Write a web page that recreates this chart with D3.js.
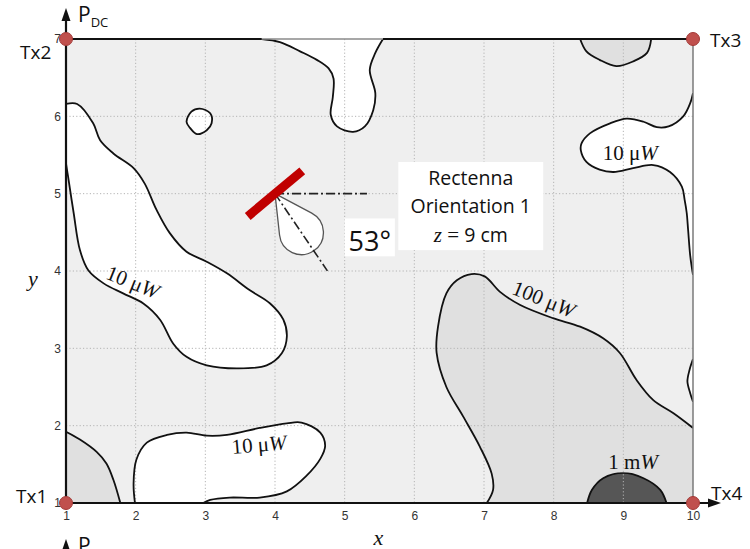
<!DOCTYPE html>
<html>
<head>
<meta charset="utf-8">
<script src="https://cdn.jsdelivr.net/npm/d3@7"></script>
<style>
  body { margin: 0; background: #fff; }
  svg { display: block; }
</style>
</head>
<body>
<svg id="chart" width="750" height="549"></svg>
<script>
// ---- data -------------------------------------------------------------
const xTicks = [1, 2, 3, 4, 5, 6, 7, 8, 9, 10];
const yTicks = [1, 2, 3, 4, 5, 6, 7];

const txNames = ["Tx1", "Tx2", "Tx3", "Tx4"];
const txX = [1, 1, 10, 10];
const txY = [1, 7, 7, 1];

// rectenna placement and orientation
const rectennaX = 4;
const rectennaY = 5;
const rectennaAngle = 53;    // degrees below the +x direction
const rectennaZ = "9 cm";

// iso-power boundaries, [x, y] in plot units
// below 10 µW (white)
const lowWest = [[1, 6.16], [1.16, 6.16], [1.39, 5.91], [1.49, 5.69], [1.68, 5.52], [1.97, 5.33],
  [2.13, 5.13], [2.30, 4.79], [2.49, 4.49], [2.73, 4.25], [3.02, 4.12], [3.31, 3.97], [3.64, 3.75],
  [3.93, 3.58], [4.12, 3.37], [4.17, 3.15], [4.10, 2.94], [3.88, 2.78], [3.45, 2.74], [3.02, 2.78],
  [2.73, 2.89], [2.54, 3.06], [2.35, 3.37], [2.11, 3.58], [1.82, 3.71], [1.54, 3.84], [1.32, 4.01],
  [1.20, 4.27], [1.11, 4.75], [1.03, 5.22], [1, 5.39]];
const lowIsle = [[2.73, 5.93], [2.80, 6.06], [2.92, 6.10], [3.07, 6.04], [3.09, 5.91], [3.02, 5.82],
  [2.88, 5.77], [2.78, 5.85]];
const lowNotch = [[3.81, 7], [4.07, 6.96], [4.36, 6.84], [4.60, 6.73], [4.77, 6.62], [4.84, 6.49],
  [4.83, 6.25], [4.80, 6.02], [4.89, 5.87], [5.12, 5.80], [5.29, 5.87], [5.41, 6.08], [5.44, 6.30],
  [5.36, 6.60], [5.44, 6.82], [5.55, 7]];
const lowEast = [[10, 6.30], [9.96, 6.17], [9.86, 6.00], [9.65, 5.87], [9.48, 5.86], [9.29, 5.93],
  [9.05, 5.97], [8.81, 5.91], [8.52, 5.78], [8.40, 5.65], [8.39, 5.56], [8.47, 5.41], [8.66, 5.31],
  [8.86, 5.28], [9.14, 5.33], [9.43, 5.37], [9.67, 5.28], [9.84, 5.09], [9.88, 4.92], [9.91, 4.75],
  [9.93, 4.53], [9.96, 4.20], [10, 3.95]];
const lowEastBump = [[10, 2.86], [9.95, 2.72], [9.92, 2.57], [9.96, 2.42], [10, 2.31]];
const lowSouth = [[1.99, 1], [1.97, 1.25], [2.01, 1.56], [2.16, 1.78], [2.45, 1.88], [2.73, 1.91],
  [3.02, 1.87], [3.31, 1.88], [3.78, 1.97], [4.17, 2.03], [4.38, 2.04], [4.65, 1.91], [4.72, 1.74],
  [4.65, 1.57], [4.45, 1.35], [4.17, 1.15], [3.78, 1.07], [3.35, 1.07], [3.07, 1.04], [2.97, 1]];
// above 100 µW (mid grey)
const highNorth = [[8.38, 7], [8.47, 6.84], [8.66, 6.73], [8.90, 6.65], [9.14, 6.71], [9.34, 6.82], [9.40, 7]];
const highSouthWest = [[1, 1.92], [1.20, 1.82], [1.44, 1.66], [1.58, 1.51], [1.68, 1.30], [1.78, 1]];
const highSouthEast = [[7.04, 1], [7.13, 1.17], [7.11, 1.38], [6.94, 1.73], [6.70, 2.12], [6.46, 2.50],
  [6.32, 2.94], [6.34, 3.28], [6.46, 3.71], [6.61, 3.88], [6.82, 3.96], [7.01, 3.93], [7.23, 3.73],
  [7.52, 3.56], [7.99, 3.39], [8.38, 3.28], [8.71, 3.13], [8.95, 2.94], [9.19, 2.59], [9.43, 2.33],
  [9.72, 2.16], [10, 1.97]];
// above 1 mW (dark grey)
const peakSouth = [[8.48, 1], [8.55, 1.17], [8.71, 1.32], [9.00, 1.39], [9.29, 1.32], [9.53, 1.17], [9.62, 1]];

// contour level captions: text, anchor [x, y], rotation (deg)
const levelText = ["10 μ", "10 μ", "10 μ", "100 μ", "1 m"];
const levelUnit = ["W", "W", "W", "W", "W"];
const levelAt = [[1.96, 3.86], [9.10, 5.53], [3.77, 1.76], [7.86, 3.64], [9.14, 1.53]];
const levelRot = [22, 0, -5, 22, 0];

// ---- layout -----------------------------------------------------------
const svg = d3.select("#chart");
const x = d3.scaleLinear().domain([1, 10]).range([66, 693]);
const y = d3.scaleLinear().domain([1, 7]).range([503, 39]);

const FILL = { low: "#ffffff", mid: "#efefef", high: "#e0e0e0", peak: "#565656" };

const regions = [
  { pts: lowWest, fill: FILL.low, corners: [] },
  { pts: lowIsle, fill: FILL.low, closed: true },
  { pts: lowNotch, fill: FILL.low, corners: [] },
  { pts: lowEast, fill: FILL.low, corners: [] },
  { pts: lowEastBump, fill: FILL.low, corners: [] },
  { pts: lowSouth, fill: FILL.low, corners: [] },
  { pts: highNorth, fill: FILL.high, corners: [] },
  { pts: highSouthWest, fill: FILL.high, corners: [[1, 1]] },
  { pts: highSouthEast, fill: FILL.high, corners: [[10, 1]] },
  { pts: peakSouth, fill: FILL.peak, corners: [] }
];

const curveOpen = d3.line().x(d => x(d[0])).y(d => y(d[1])).curve(d3.curveCatmullRom.alpha(0.5));
const curveLoop = d3.line().x(d => x(d[0])).y(d => y(d[1])).curve(d3.curveCatmullRomClosed.alpha(0.5));

const defs = svg.append("defs");
defs.append("clipPath").attr("id", "plotClip")
  .append("rect").attr("x", x(1)).attr("y", y(7)).attr("width", x(10) - x(1)).attr("height", y(1) - y(7));

const gapMask = defs.append("mask").attr("id", "labelGaps").attr("maskUnits", "userSpaceOnUse")
  .attr("x", 0).attr("y", 0).attr("width", 750).attr("height", 549);
gapMask.append("rect").attr("width", 750).attr("height", 549).attr("fill", "#fff");

const plot = svg.append("g").attr("clip-path", "url(#plotClip)");

// background band (10 µW – 100 µW)
plot.append("rect")
  .attr("x", x(1)).attr("y", y(7))
  .attr("width", x(10) - x(1)).attr("height", y(1) - y(7))
  .attr("fill", FILL.mid);

// filled bands
plot.selectAll("path.band").data(regions).join("path")
  .attr("class", "band")
  .attr("fill", d => d.fill)
  .attr("d", d => d.closed ? curveLoop(d.pts)
    : curveOpen(d.pts) + d.corners.map(c => `L${x(c[0])},${y(c[1])}`).join("") + "Z");

// dotted grid
const grid = plot.append("g").attr("stroke", "#b4b4b4").attr("stroke-width", 1)
  .attr("stroke-dasharray", "1.2,2.2");
grid.selectAll("line.gx").data(xTicks.slice(1, -1)).join("line")
  .attr("x1", d => x(d)).attr("x2", d => x(d)).attr("y1", y(7)).attr("y2", y(1));
grid.selectAll("line.gy").data(yTicks.slice(1, -1)).join("line")
  .attr("y1", d => y(d)).attr("y2", d => y(d)).attr("x1", x(1)).attr("x2", x(10));

// contour lines (with gaps under the captions)
const lines = plot.append("g").attr("mask", "url(#labelGaps)")
  .attr("fill", "none").attr("stroke", "#111").attr("stroke-width", 1.8).attr("stroke-linejoin", "round");
lines.selectAll("path").data(regions).join("path")
  .attr("d", d => d.closed ? curveLoop(d.pts) : curveOpen(d.pts));

// level captions
const capG = svg.append("g")
  .attr("font-family", "'Liberation Serif', 'DejaVu Serif', serif")
  .attr("font-size", 21).attr("fill", "#111");
levelText.forEach((t, i) => {
  const tr = `translate(${x(levelAt[i][0])},${y(levelAt[i][1])}) rotate(${levelRot[i]})`;
  const txt = capG.append("text").attr("transform", tr)
    .attr("text-anchor", "middle").attr("dy", "0.35em");
  txt.append("tspan").text(t);
  txt.append("tspan").attr("font-style", "italic").text(levelUnit[i]);
  const bb = txt.node().getBBox();
  gapMask.append("rect").attr("transform", tr)
    .attr("x", bb.x - 2).attr("y", bb.y + 2).attr("width", bb.width + 4).attr("height", bb.height - 4)
    .attr("fill", "#000");
});

// ---- frame and axes ----------------------------------------------------
const frame = svg.append("g");
frame.append("line").attr("x1", x(10)).attr("x2", x(10)).attr("y1", y(7)).attr("y2", y(1))
  .attr("stroke", "#7a7a7a").attr("stroke-width", 1.5);
// top edge: grey where the low-power notch opens onto it, black elsewhere
const notchL = x(lowNotch[0][0]), notchR = x(lowNotch[lowNotch.length - 1][0]);
frame.append("line").attr("x1", notchL).attr("x2", notchR).attr("y1", y(7)).attr("y2", y(7))
  .attr("stroke", "#8a8a8a").attr("stroke-width", 1.5);
[[x(1), notchL], [notchR, x(10)]].forEach(([a, b]) =>
  frame.append("line").attr("x1", a).attr("x2", b).attr("y1", y(7)).attr("y2", y(7))
    .attr("stroke", "#111").attr("stroke-width", 2));
frame.append("line").attr("x1", x(1)).attr("x2", x(1)).attr("y1", y(1)).attr("y2", y(7) - 22)
  .attr("stroke", "#111").attr("stroke-width", 2.2);
frame.append("line").attr("x1", x(1)).attr("x2", x(10) + 18).attr("y1", y(1)).attr("y2", y(1))
  .attr("stroke", "#111").attr("stroke-width", 2.2);
const arrow = (tx, ty, dir) => {
  // dir: "up" or "right"
  const p = dir === "up"
    ? [[tx, ty], [tx - 4.5, ty + 13], [tx + 4.5, ty + 13]]
    : [[tx, ty], [tx - 13, ty - 4.5], [tx - 13, ty + 4.5]];
  frame.append("path").attr("d", "M" + p.join("L") + "Z").attr("fill", "#111");
};
arrow(x(1), y(7) - 31, "up");
arrow(x(10) + 28, y(1), "right");

const tickFont = "'Liberation Sans', Arial, sans-serif";
const xAxis = svg.append("g").attr("transform", `translate(0,${y(1)})`)
  .call(d3.axisBottom(x).tickValues(xTicks).tickSize(0).tickPadding(8).tickFormat(d3.format("d")));
const yAxis = svg.append("g").attr("transform", `translate(${x(1)},0)`)
  .call(d3.axisLeft(y).tickValues(yTicks).tickSize(0).tickPadding(5).tickFormat(d3.format("d")));
[xAxis, yAxis].forEach(a => {
  a.select(".domain").remove();
  a.selectAll("text").attr("font-family", tickFont).attr("font-size", 12).attr("fill", "#333");
});

// axis names
const mathFont = "'Liberation Serif', 'DejaVu Serif', serif";
svg.append("text").attr("x", (x(1) + x(10)) / 2 - 1).attr("y", 545)
  .attr("font-family", mathFont).attr("font-style", "italic").attr("font-size", 22)
  .attr("text-anchor", "middle").attr("fill", "#111").text("x");
svg.append("text").attr("x", 33).attr("y", 286)
  .attr("font-family", mathFont).attr("font-style", "italic").attr("font-size", 22)
  .attr("text-anchor", "middle").attr("fill", "#111").text("y");

const sans = "'Open Sans', 'Noto Sans', sans-serif";
const pdc = (px, py) => {
  const t = svg.append("text").attr("x", px).attr("y", py)
    .attr("font-family", sans).attr("font-size", 21).attr("fill", "#111");
  t.append("tspan").text("P");
  t.append("tspan").attr("font-size", 13).attr("dy", 5).text("DC");
};
pdc(78, 22);
// next panel's axis peeking in below
svg.append("line").attr("x1", x(1)).attr("x2", x(1)).attr("y1", 549).attr("y2", 546)
  .attr("stroke", "#111").attr("stroke-width", 2.2);
svg.append("path").attr("d", `M${x(1)},${539}L${x(1) - 4.5},${552}L${x(1) + 4.5},${552}Z`).attr("fill", "#111");
pdc(78, 553);

// ---- rectenna annotation ----------------------------------------------
const ann = svg.append("g");
const rad = rectennaAngle * Math.PI / 180;
const ax0 = x(rectennaX), ay0 = y(rectennaY);
const dirPt = len => [x(rectennaX + len * Math.cos(rad)), y(rectennaY - len * Math.sin(rad))];

// reference and boresight lines
ann.append("line").attr("x1", ax0).attr("y1", ay0).attr("x2", x(rectennaX + 1.32)).attr("y2", ay0)
  .attr("stroke", "#222").attr("stroke-width", 1.6).attr("stroke-dasharray", "9,3,2,3");
const bEnd = dirPt(1.25);

// radiation lobe
const c = dirPt(0.63);
const r = 22;
const dx = c[0] - ax0, dy = c[1] - ay0, d = Math.hypot(dx, dy);
const phi = Math.atan2(dy, dx), alpha = Math.asin(r / d), L = Math.sqrt(d * d - r * r);
const p1 = [ax0 + L * Math.cos(phi - alpha), ay0 + L * Math.sin(phi - alpha)];
const p2 = [ax0 + L * Math.cos(phi + alpha), ay0 + L * Math.sin(phi + alpha)];
ann.append("path")
  .attr("d", `M${ax0},${ay0}L${p1[0]},${p1[1]}A${r},${r} 0 1 1 ${p2[0]},${p2[1]}Z`)
  .attr("fill", "#fff").attr("stroke", "#555").attr("stroke-width", 1.3);
// boresight drawn over the lobe
ann.append("line").attr("x1", ax0).attr("y1", ay0).attr("x2", bEnd[0]).attr("y2", bEnd[1])
  .attr("stroke", "#222").attr("stroke-width", 1.6).attr("stroke-dasharray", "9,3,2,3");

// antenna bar, normal to boresight
const half = 0.49;
const perp = rad - Math.PI / 2;
ann.append("line")
  .attr("x1", x(rectennaX - half * Math.cos(perp))).attr("y1", y(rectennaY + half * Math.sin(perp)))
  .attr("x2", x(rectennaX + half * Math.cos(perp))).attr("y2", y(rectennaY - half * Math.sin(perp)))
  .attr("stroke", "#c00000").attr("stroke-width", 9);

// angle label
ann.append("rect").attr("x", x(5.0)).attr("y", y(4.68)).attr("width", x(5.72) - x(5.0))
  .attr("height", y(4.19) - y(4.68)).attr("fill", "#fff");
ann.append("text").attr("x", x(5.36)).attr("y", y(4.26)).attr("text-anchor", "middle")
  .attr("font-family", sans).attr("font-size", 27).attr("fill", "#111").text(rectennaAngle + "°");

// info box
ann.append("rect").attr("x", x(5.77)).attr("y", y(5.41)).attr("width", x(7.85) - x(5.77))
  .attr("height", y(4.27) - y(5.41)).attr("fill", "#fff");
const cx = (x(5.77) + x(7.85)) / 2;
const info = ann.append("g").attr("font-family", sans).attr("font-size", 19.5)
  .attr("fill", "#111").attr("text-anchor", "middle");
info.append("text").attr("x", cx).attr("y", 185).text("Rectenna");
info.append("text").attr("x", cx).attr("y", 213).text("Orientation 1");
const zt = info.append("text").attr("x", cx).attr("y", 242);
zt.append("tspan").attr("font-family", mathFont).attr("font-style", "italic").attr("font-size", 21).text("z");
zt.append("tspan").attr("font-family", mathFont).attr("font-size", 21).text(" = ");
zt.append("tspan").text(rectennaZ);

// ---- transmitters -------------------------------------------------------
svg.append("g").selectAll("circle").data(txNames).join("circle")
  .attr("cx", (d, i) => x(txX[i])).attr("cy", (d, i) => y(txY[i])).attr("r", 6.5)
  .attr("fill", "#c0504d").attr("stroke", "#a33a37").attr("stroke-width", 1);

const txLabelPos = { Tx1: [16, 503], Tx2: [20, 59], Tx3: [710, 47], Tx4: [711, 500] };
svg.append("g").attr("font-family", sans).attr("font-size", 19).attr("fill", "#111")
  .selectAll("text").data(txNames).join("text")
  .attr("x", d => txLabelPos[d][0]).attr("y", d => txLabelPos[d][1]).text(d => d);
</script>
</body>
</html>
